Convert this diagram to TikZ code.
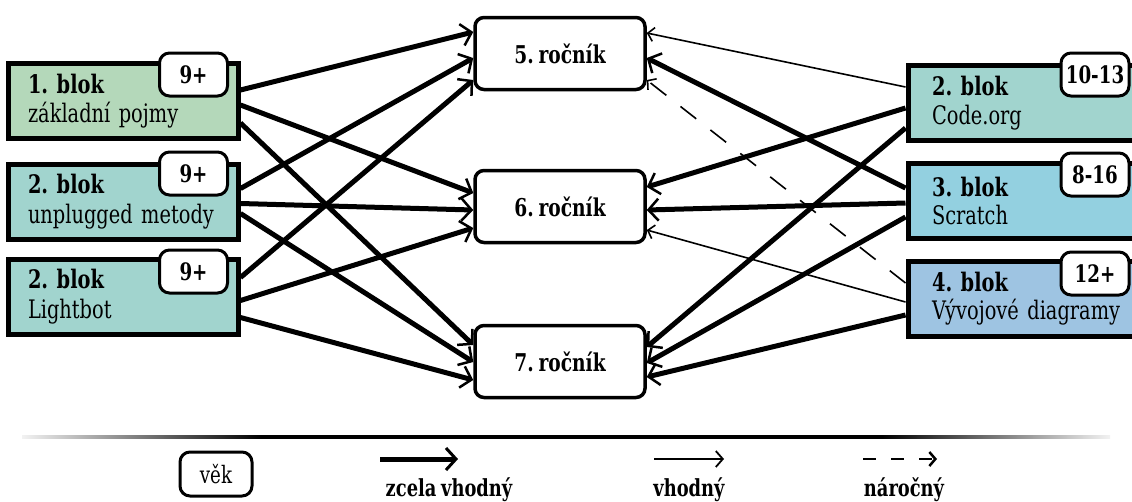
\documentclass[tikz,border=0pt]{standalone}
\usepackage{fontspec}
\setmainfont{DejaVu Serif}[FakeStretch=0.76, WordSpace=0.75]
\usetikzlibrary{arrows.meta,calc}
\definecolor{cgreen}{RGB}{180,216,186}
\definecolor{cteal}{RGB}{161,212,206}
\definecolor{cblue}{RGB}{147,208,224}
\definecolor{csky}{RGB}{158,196,226}
\pgfdeclarehorizontalshading{sepfade}{100bp}{color(0bp)=(black!5); color(25bp)=(black!5); color(36bp)=(black); color(64.5bp)=(black); color(75bp)=(black!5); color(100bp)=(black!5)}
\frenchspacing
\begin{document}
\begin{tikzpicture}[x=1pt,y=-1pt,
  lbox/.style={draw, line width=5pt, minimum height=75pt, inner xsep=20pt, inner ysep=0pt,
    text width=190pt, align=left, font=\fontsize{25.5}{29.5}\selectfont},
  rbox/.style={draw, line width=5pt, minimum height=75pt, inner xsep=24pt, inner ysep=0pt,
    text width=212pt, align=left, font=\fontsize{25.5}{28.5}\selectfont},
  badge/.style={draw, line width=3pt, rounded corners=10pt, fill=white, minimum width=68pt,
    minimum height=43pt, inner sep=0pt, font=\bfseries\fontsize{24}{24}\selectfont},
  midbox/.style={draw, line width=3.5pt, rounded corners=9pt, fill=white, minimum width=170pt,
    minimum height=72pt, inner sep=0pt, font=\bfseries\fontsize{24.5}{24.5}\selectfont},
  fit arrow/.style={line width=5pt, -{Straight Barb[length=10pt,width=22pt,line width=2.5pt]}},
  ok arrow/.style={line width=1.6pt, -{Straight Barb[length=6pt,width=14pt,line width=1.6pt]}},
  hard arrow/.style={line width=1.6pt, dash pattern=on 20pt off 18pt, -{Straight Barb[length=6pt,width=14pt,line width=1.6pt]}},
  legtext/.style={anchor=base, inner sep=0pt, font=\bfseries\fontsize{23.5}{23.5}\selectfont}
]
\useasboundingbox (0,0) rectangle (1132,501);
\clip (0,0) rectangle (1132,501);

% middle boxes
\node[midbox] (r5) at (560,53.5) {5. ročník};
\node[midbox] (r6) at (560,206.5) {6. ročník};
\node[midbox] (r7) at (560,361.5) {7. ročník};

% left boxes
\node[lbox, fill=cgreen] (b1) at (123,101) {\textbf{1. blok}\\základní pojmy};
\node[lbox, fill=cteal] (b2) at (123,201.5) {\textbf{2. blok}\\unplugged metody};
\node[lbox, fill=cteal] (b3) at (123,296.5) {\textbf{2. blok}\\Lightbot};
\node[badge] (a1) at (193.5,74.5) {9+};
\node[badge] (a2) at (193.5,173.5) {9+};
\node[badge] (a3) at (193.5,271.5) {9+};

% right boxes
\node[rbox, fill=cteal] (k2) at (1038,103) {\textbf{2. blok}\\Code.org};
\node[rbox, fill=cblue] (s3) at (1038,201) {\textbf{3. blok}\\Scratch};
\node[rbox, fill=csky] (v4) at (1038,298.5) {\textbf{4. blok}\\Vývojové diagramy};
\node[badge] (a4) at (1095,74.5) {10-13};
\node[badge] (a5) at (1095,174.5) {8-16};
\node[badge] (a6) at (1095,273.5) {12+};

% left connectors
\draw[fit arrow] ([yshift=11pt]b1.east) -- ([yshift=21.5pt]r5.west);
\draw[fit arrow] ([yshift=13pt]b2.east) -- ([yshift=-4.5pt]r5.west);
\draw[fit arrow] ([yshift=19pt]b3.east) -- ([yshift=-26.5pt]r5.west);
\draw[fit arrow] ([yshift=-4pt]b1.east) -- ([yshift=13.5pt]r6.west);
\draw[fit arrow] ([yshift=-2pt]b2.east) -- ([yshift=-3.5pt]r6.west);
\draw[fit arrow] ([yshift=-4pt]b3.east) -- ([yshift=-21.5pt]r6.west);
\draw[fit arrow] ([yshift=-22pt]b1.east) -- ([yshift=16.5pt]r7.west);
\draw[fit arrow] ([yshift=-12pt]b2.east) -- ([yshift=-0.5pt]r7.west);
\draw[fit arrow] ([yshift=-21pt]b3.east) -- ([yshift=-18.5pt]r7.west);

% right connectors
\draw[ok arrow] ([yshift=16pt]k2.west) -- ([yshift=20.5pt]r5.east);
\draw[fit arrow] ([yshift=-5pt]k2.west) -- ([yshift=19.5pt]r6.east);
\draw[fit arrow] ([yshift=-25pt]k2.west) -- ([yshift=14.5pt]r7.east);
\draw[fit arrow] ([yshift=13pt]s3.west) -- ([yshift=-4.5pt]r5.east);
\draw[fit arrow] ([yshift=-2pt]s3.west) -- ([yshift=-3.5pt]r6.east);
\draw[fit arrow] ([yshift=-16pt]s3.west) -- ([yshift=-1.5pt]r7.east);
\draw[hard arrow] ([yshift=15.5pt]v4.west) -- ([yshift=-26.5pt]r5.east);
\draw[ok arrow] ([yshift=-3.5pt]v4.west) -- ([yshift=-23.5pt]r6.east);
\draw[fit arrow] ([yshift=-16.5pt]v4.west) -- ([yshift=-15.5pt]r7.east);

% legend separator
\shade[shading=sepfade] (22,435.5) rectangle (1110,438.5);

% legend
\node[draw, line width=3pt, rounded corners=10pt, minimum width=72pt, minimum height=44pt,
  inner sep=0pt, font=\fontsize{24}{24}\selectfont] (age) at (216,474) {věk};
\coordinate (t1) at (380,459); \coordinate (t2) at (458,459);
\draw[line width=5pt, -{Straight Barb[length=10pt,width=22pt,line width=3pt]}] (t1) -- (t2);
\node[legtext] (lt1) at (449,496) {zcela vhodný};
\coordinate (u1) at (654,459); \coordinate (u2) at (724,459);
\draw[line width=1.8pt, -{Straight Barb[length=7pt,width=16pt,line width=1.8pt]}] (u1) -- (u2);
\node[legtext] (lt2) at (689,496) {vhodný};
\coordinate (w1) at (863,459); \coordinate (w2) at (937,459);
\draw[line width=2.5pt, dash pattern=on 13pt off 15pt, -{Straight Barb[length=6pt,width=14pt,line width=2.5pt]}] (w1) -- (w2);
\node[legtext] (lt3) at (904,496) {náročný};
\end{tikzpicture}
\end{document}
